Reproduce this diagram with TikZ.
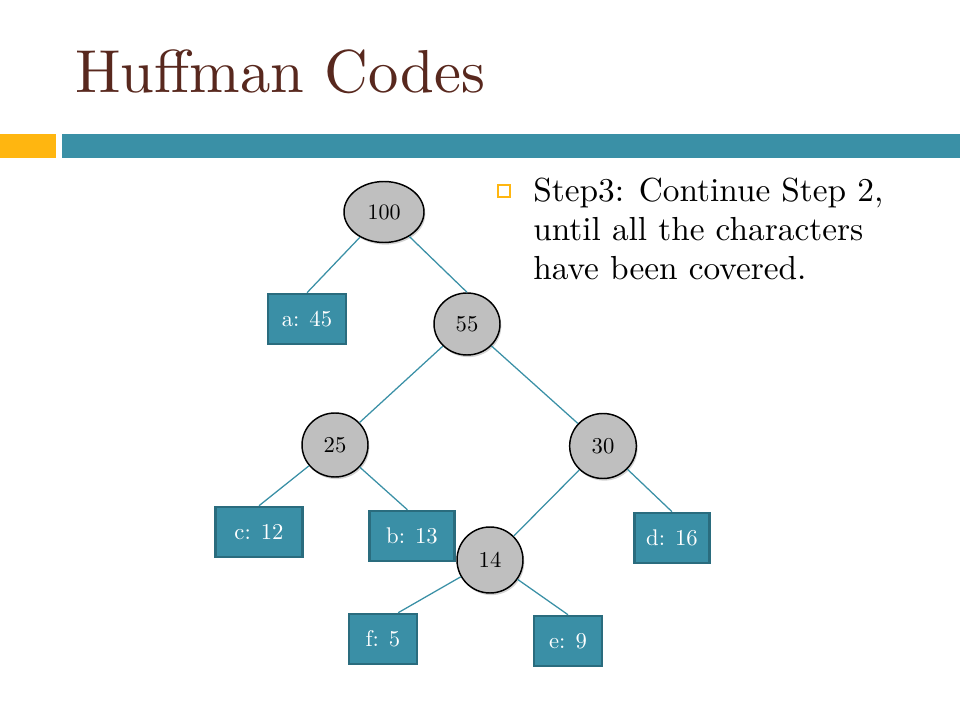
\documentclass[tikz,border=0pt]{standalone}
\usepackage{fontspec}
% one design size for every text size, so large text keeps the 10pt proportions
\setmainfont{lmroman10-regular.otf}[BoldFont=lmroman10-bold.otf,ItalicFont=lmroman10-italic.otf]
\usetikzlibrary{shapes.geometric,shadows}
\definecolor{titlebrown}{RGB}{88,40,30}
\definecolor{barorange}{RGB}{255,182,16}
\definecolor{barteal}{RGB}{58,144,166}
\definecolor{leafteal}{RGB}{58,143,166}
\definecolor{leafedge}{RGB}{42,108,126}
\definecolor{innergray}{RGB}{191,191,191}
\begin{document}
\begin{tikzpicture}[x=0.75pt,y=-0.75pt,
  inner/.style={ellipse,draw=black,line width=1.1pt,fill=innergray,inner sep=0pt,
    minimum width=49.5pt,minimum height=48pt,font=\fontsize{17}{20}\selectfont,
    drop shadow={opacity=0.35,shadow xshift=1pt,shadow yshift=-1.6pt}},
  leaf/.style={rectangle,draw=leafedge,line width=1.9pt,fill=leafteal,text=white,
    inner sep=0pt,minimum height=37.5pt,font=\fontsize{17}{20}\selectfont},
  edge/.style={draw=barteal,line width=0.95pt},
  bodytext/.style={anchor=base west,inner sep=0pt,font=\fontsize{25}{30}\selectfont}]
\useasboundingbox (0,0) rectangle (960,720);

% header
\node[anchor=base west,inner sep=0pt,text=titlebrown,font=\fontsize{45.5}{50}\selectfont]
  (title) at (75,93) {Huffman Codes};
\fill[barorange] (0,134) rectangle (56,158);
\fill[barteal] (62,134) rectangle (960,158);

% bullet text
\draw[draw=barorange,line width=1.5pt] (497.5,185.5) rectangle (509.5,197.5);
\node[bodytext] (l1) at (533,202) {Step3: Continue Step 2,};
\node[bodytext] (l2) at (533,241) {until all the characters};
\node[bodytext] (l3) at (533,280) {have been covered.};

% tree nodes
\node[inner,minimum width=60pt,minimum height=45.75pt,font=\fontsize{16.5}{20}\selectfont]
  (n100) at (384,212) {100};
\node[leaf,minimum width=58.5pt] (a) at (307,319) {a: 45};
\node[inner,minimum height=46.5pt] (n55) at (467,324) {55};
\node[inner] (n25) at (335,445) {25};
\node[inner,minimum height=48.75pt,minimum width=50pt] (n30) at (603,446) {30};
\node[leaf,minimum width=65.25pt] (c) at (259,532) {c: 12};
\node[leaf,minimum width=63.75pt] (b) at (412,536) {b: 13};
\node[leaf,minimum width=56.25pt] (d) at (672,538) {d: 16};
\node[inner,minimum height=49.5pt] (n14) at (490,560) {14};
\node[leaf,minimum width=51pt] (f) at (383,639) {f: 5};
\node[leaf,minimum width=51pt] (e) at (568,641) {e: 9};

% connectors
\draw[edge] (n100) -- (a.north);
\draw[edge] (n100) -- (n55.north);
\draw[edge] (n55) -- (n25);
\draw[edge] (n55) -- (n30);
\draw[edge] (n25) -- (c.north);
\draw[edge] (n25) -- (b.100);
\draw[edge] (n30) -- (n14);
\draw[edge] (n30) -- (d.north);
\draw[edge] (n14) -- (f.60);
\draw[edge] (n14) -- (e.north);
\end{tikzpicture}
\end{document}
